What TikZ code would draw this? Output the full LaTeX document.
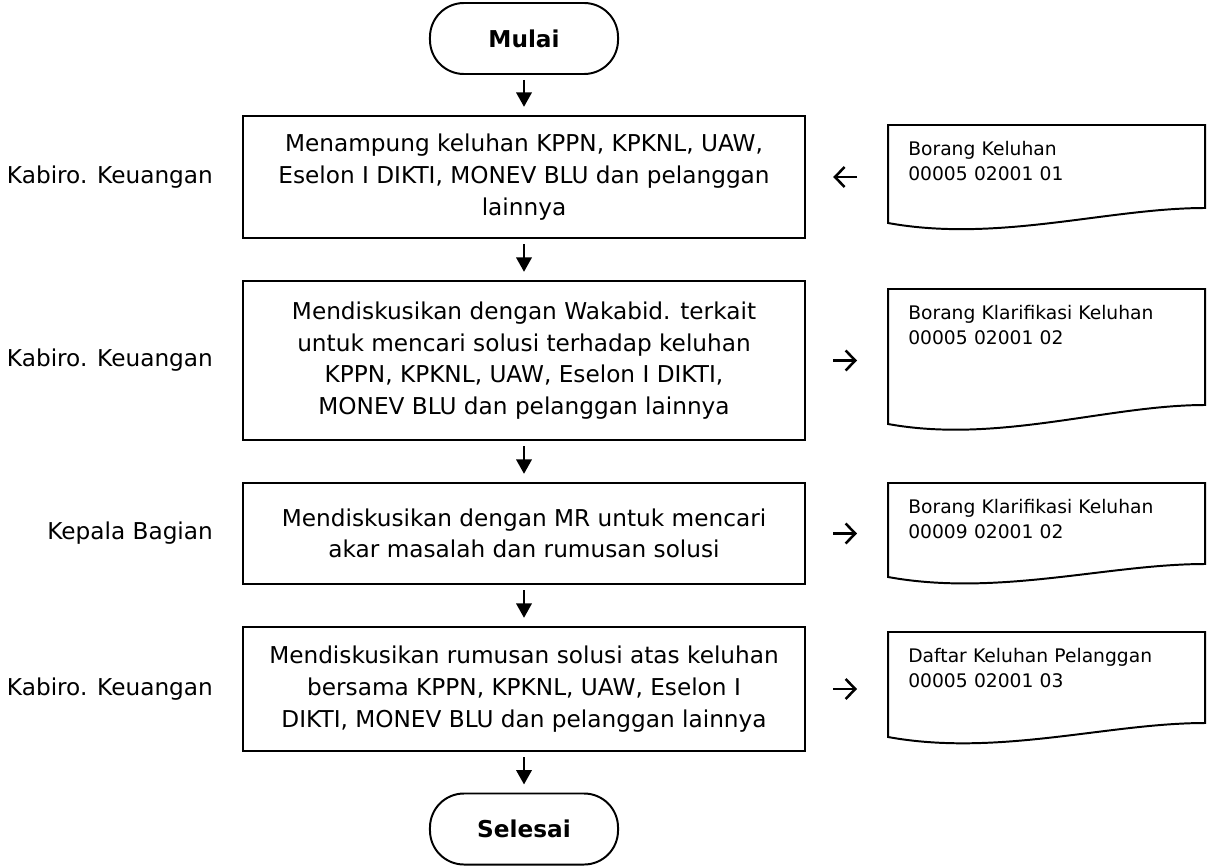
\documentclass[tikz,border=0pt]{standalone}
\usepackage{fontspec}
\setmainfont{DejaVu Sans}
\usetikzlibrary{positioning,arrows.meta}

\begin{document}
\begin{tikzpicture}[x=0.025cm, y=-0.025cm, node distance=0.6cm]
            \tikzstyle{terminal}=[draw, line width=1.4pt, rounded corners=0.85cm, minimum width=4.7cm, minimum height=1.775cm, font=\fontsize{16.5}{20}\selectfont\bfseries]
            \tikzstyle{process}=[draw, line width=1.6pt, minimum width=14.05cm, align=center, font=\fontsize{16.5}{22.5}\selectfont]
            \tikzstyle{role}=[font=\fontsize{16.5}{20}\selectfont]
            \tikzstyle{doc}=[anchor=north west, inner xsep=0.5cm, inner ysep=0.4cm, text width=6.9cm, align=left, font=\fontsize{13.3}{18}\selectfont]
            \tikzstyle{docline}=[line width=1.4pt]
            \tikzstyle{flow}=[line width=2pt, -{Triangle[length=3.6mm,width=3.8mm]}, shorten <=0.125cm, shorten >=0.2cm]
            \tikzstyle{side}=[line width=1.8pt, -{Straight Barb[length=2.4mm,width=5mm]}]

            \useasboundingbox (0,0) rectangle (1207,867);

            % Draw the start and end nodes
            \node[terminal] (mulai) at (524,38.5) {Mulai};
            \node[terminal] (selesai) at (524,829) {Selesai};

            % Draw the process boxes
            \node[process, minimum height=3.05cm] (b1) at (524,177)
                {Menampung keluhan KPPN, KPKNL, UAW,\\Eselon I DIKTI, MONEV BLU dan pelanggan\\lainnya};
            \node[process, minimum height=3.975cm] (b2) at (524,360.5)
                {Mendiskusikan dengan Wakabid. terkait\\untuk mencari solusi terhadap keluhan\\KPPN, KPKNL, UAW, Eselon I DIKTI,\\MONEV BLU dan pelanggan lainnya};
            \node[process, minimum height=2.525cm] (b3) at (524,533.5)
                {Mendiskusikan dengan MR untuk mencari\\akar masalah dan rumusan solusi};
            \node[process, minimum height=3.1cm] (b4) at (524,689)
                {Mendiskusikan rumusan solusi atas keluhan\\bersama KPPN, KPKNL, UAW, Eselon I\\DIKTI, MONEV BLU dan pelanggan lainnya};

            % Connect the flow from top to bottom
            \foreach \source/\dest in {mulai/b1, b1/b2, b2/b3, b3/b4, b4/selesai}
                \draw[flow] (\source) -- (\dest);

            % Annotate who does each step
            \foreach \proc/\who in {b1/Kabiro. Keuangan, b2/Kabiro. Keuangan, b3/Kepala Bagian, b4/Kabiro. Keuangan}
                \node[role, left=of \proc] (r-\proc) {\who};

            % Draw the documents
            \node[doc] (d1) at (888,125) {Borang Keluhan\\00005 02001 01};
            \node[doc] (d2) at (888,289) {Borang Klarifikasi Keluhan\\00005 02001 02};
            \node[doc] (d3) at (888,483) {Borang Klarifikasi Keluhan\\00009 02001 02};
            \node[doc] (d4) at (888,632) {Daftar Keluhan Pelanggan\\00005 02001 03};

            % Wavy document outlines
            \foreach \d/\hr/\hl in {d1/83/98, d2/116/135, d3/81/94, d4/91/105}
                \draw[docline, shift={(\d.north west)}] (0,0) -- (317,0) -- (317,\hr)
                    .. controls (220,\hr) and (110,\hl+20) .. (0,\hl) -- cycle;

            % Link documents to the steps
            \draw[side, shorten <=0.775cm, shorten >=0.675cm] (b1.east -| d1.west) -- (b1.east);
            \foreach \proc/\d in {b2/d2, b3/d3, b4/d4}
                \draw[side, shorten <=0.675cm, shorten >=0.775cm] (\proc.east) -- (\proc.east -| \d.west);
        \end{tikzpicture}
\end{document}
